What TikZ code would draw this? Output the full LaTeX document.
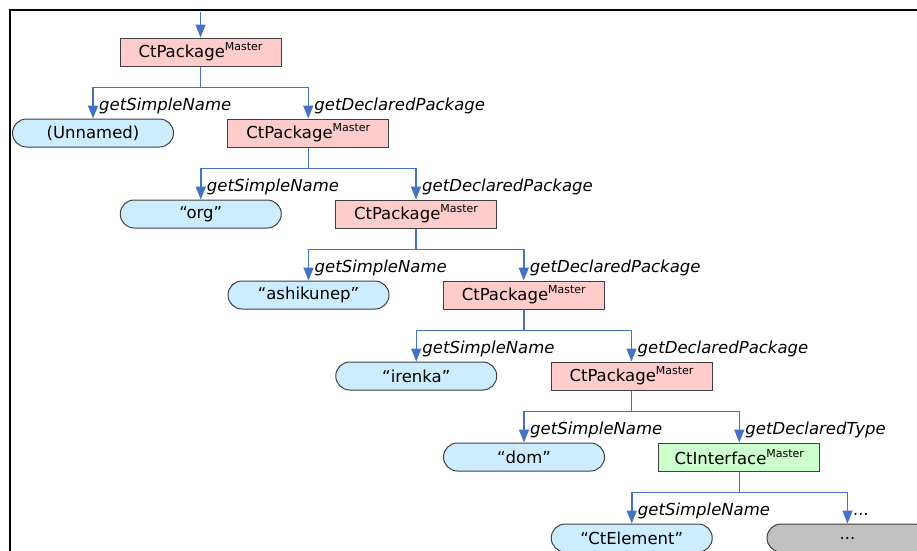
\documentclass[tikz,border=0pt]{standalone}
\usepackage{fontspec}
\setmainfont{DejaVu Sans}
\usetikzlibrary{arrows.meta,positioning}

\definecolor{pkgfill}{RGB}{255,204,204}
\definecolor{namefill}{RGB}{204,236,255}
\definecolor{typefill}{RGB}{204,255,204}
\definecolor{restfill}{RGB}{192,192,192}
\definecolor{linkblue}{RGB}{68,114,196}

% element name with the "Master" tag
\newcommand{\mst}[1]{#1\raisebox{7pt}{\fontsize{11}{11}\selectfont Master}}

\tikzset{
  elem/.style={draw=black!75, line width=1pt, minimum width=161pt, minimum height=28pt,
               inner sep=0pt, font=\fontsize{16.5}{18}\selectfont},
  pkg/.style={elem, fill=pkgfill},
  iface/.style={elem, fill=typefill},
  leaf/.style={elem, fill=namefill, rounded corners=14pt},
  rest/.style={elem, fill=restfill, rounded corners=14pt},
  link/.style={draw=linkblue, line width=1.5pt, -{Triangle[length=13pt,width=10pt]}},
  role/.style={anchor=base west, inner sep=0pt, font=\fontsize{16.5}{18}\selectfont\itshape},
}

\begin{document}
\begin{tikzpicture}[x=1pt,y=-1pt]
\useasboundingbox (0,0) rectangle (917,550);
\clip (0,0) rectangle (917,550);

  % frame
  \draw[line width=2.5pt] (10,560) |- (930,10);

  % root package
  \coordinate (entry) at (200.5,12);
  \node[pkg] (p0) at (200.5,52) {\mst{CtPackage}};
  \draw[link] (entry) -- (p0.north);

  % chain of packages with their simple names
  \foreach \i/\txt in {1/{(Unnamed)},2/{“org”},3/{“ashikunep”},4/{“irenka”}}{
    \pgfmathtruncatemacro{\j}{\i-1}
    \node[leaf] (n\i) at (93+107.75*\i-107.75, 52+81*\i) {\txt};
    \node[pkg]  (p\i) at (200.5+107.75*\i, 52+81*\i) {\mst{CtPackage}};
    \draw[link] (p\j.south) -- ++(0,21) -| (n\i.north);
    \draw[link] (p\j.south) -- ++(0,21) -| (p\i.north);
    \node[role] (s\i) at ([shift={(6pt,8pt)}]n\i.north) {getSimpleName};
    \node[role] (d\i) at ([shift={(6pt,8pt)}]p\i.north) {getDeclaredPackage};
  }

  % declared type
  \node[leaf]  (n5) at (524,457) {“dom”};
  \node[iface] (i5) at (739.25,457) {\mst{CtInterface}};
  \draw[link] (p4.south) -- ++(0,21) -| (n5.north);
  \draw[link] (p4.south) -- ++(0,21) -| (i5.north);
  \node[role] (s5) at ([shift={(6pt,8pt)}]n5.north) {getSimpleName};
  \node[role] (d5) at ([shift={(6pt,8pt)}]i5.north) {getDeclaredType};

  % members of the interface
  \node[leaf] (n6) at (631.75,538) {“CtElement”};
  \node[rest] (r6) at (847.5,538) {...};
  \draw[link] (i5.south) -- ++(0,21) -| (n6.north);
  \draw[link] (i5.south) -- ++(0,21) -| (r6.north);
  \node[role] (s6) at ([shift={(6pt,8pt)}]n6.north) {getSimpleName};
  \node[role] (m6) at ([shift={(6pt,8pt)}]r6.north) {...};
\end{tikzpicture}
\end{document}
